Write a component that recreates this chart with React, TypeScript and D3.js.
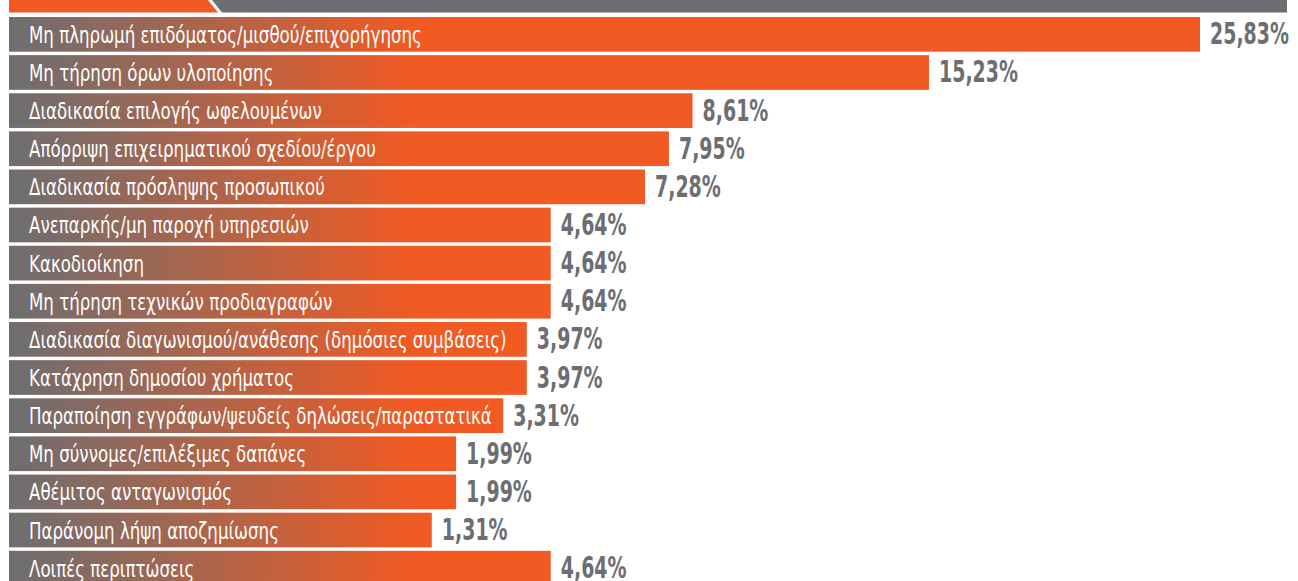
import React from "react";
import * as d3 from "d3";

const categories = [
  "Μη πληρωμή επιδόματος/μισθού/επιχορήγησης",
  "Μη τήρηση όρων υλοποίησης",
  "Διαδικασία επιλογής ωφελουμένων",
  "Απόρριψη επιχειρηματικού σχεδίου/έργου",
  "Διαδικασία πρόσληψης προσωπικού",
  "Ανεπαρκής/μη παροχή υπηρεσιών",
  "Κακοδιοίκηση",
  "Μη τήρηση τεχνικών προδιαγραφών",
  "Διαδικασία διαγωνισμού/ανάθεσης (δημόσιες συμβάσεις)",
  "Κατάχρηση δημοσίου χρήματος",
  "Παραποίηση εγγράφων/ψευδείς δηλώσεις/παραστατικά",
  "Μη σύννομες/επιλέξιμες δαπάνες",
  "Αθέμιτος ανταγωνισμός",
  "Παράνομη λήψη αποζημίωσης",
  "Λοιπές περιπτώσεις",
];
const values = [25.83, 15.23, 8.61, 7.95, 7.28, 4.64, 4.64, 4.64, 3.97, 3.97, 3.31, 1.99, 1.99, 1.31, 4.64];

const W = 1298;
const H = 581;
const GRAY = "#6d6e71";
const ORANGE = "#f15a22";
const FONT = "'DejaVu Sans Condensed', 'DejaVu Sans', sans-serif";

const locale = d3.formatLocale({ decimal: ",", thousands: ".", grouping: [3], currency: ["", "€"] });
const fmt = locale.format(".2f");

export default function App() {
  const x0 = 9;
  // broken (polylinear) scale: the longest bar is compressed
  const x = d3.scaleLinear().domain([0, 15.23, 25.83]).range([385, 929, 1200]);
  const y = d3
    .scaleBand<number>()
    .domain(d3.range(categories.length))
    .range([17, 17 + 37.9 * categories.length])
    .paddingInner(0.09)
    .paddingOuter(0);
  const bh = y.bandwidth();

  return (
    <svg
      width={W}
      height={H}
      style={{ position: "absolute", left: 0, top: 0, background: "#fff" }}
    >
      <defs>
        <linearGradient id="barGrad" gradientUnits="userSpaceOnUse" x1={x0} x2={415} y1={0} y2={0}>
          <stop offset="0%" stopColor={GRAY} />
          <stop offset="100%" stopColor={ORANGE} />
        </linearGradient>
      </defs>
      {/* top header band */}
      <path d={`M${x0},0 L208,0 L218,12.5 L${x0},12.5 Z`} fill={ORANGE} />
      <path d={`M212,0 L1287,0 L1287,12.5 L222,12.5 Z`} fill={GRAY} />
      {values.map((v, i) => {
        const yy = y(i) as number;
        const xe = x(v);
        const cy = yy + bh / 2;
        return (
          <g key={i}>
            <rect x={x0} y={yy} width={xe - x0} height={bh} fill="url(#barGrad)" />
            <text
              transform={`translate(29,${cy + 8.5}) scale(0.805,1)`}
              fill="#fff"
              fontFamily={FONT}
              fontSize={23}
            >
              {categories[i]}
            </text>
            <text
              transform={`translate(${xe + 10},${cy + 10}) scale(0.68,1)`}
              fill={GRAY}
              fontFamily={FONT}
              fontWeight="bold"
              fontSize={31}
            >
              {fmt(v)}%
            </text>
          </g>
        );
      })}
    </svg>
  );
}
